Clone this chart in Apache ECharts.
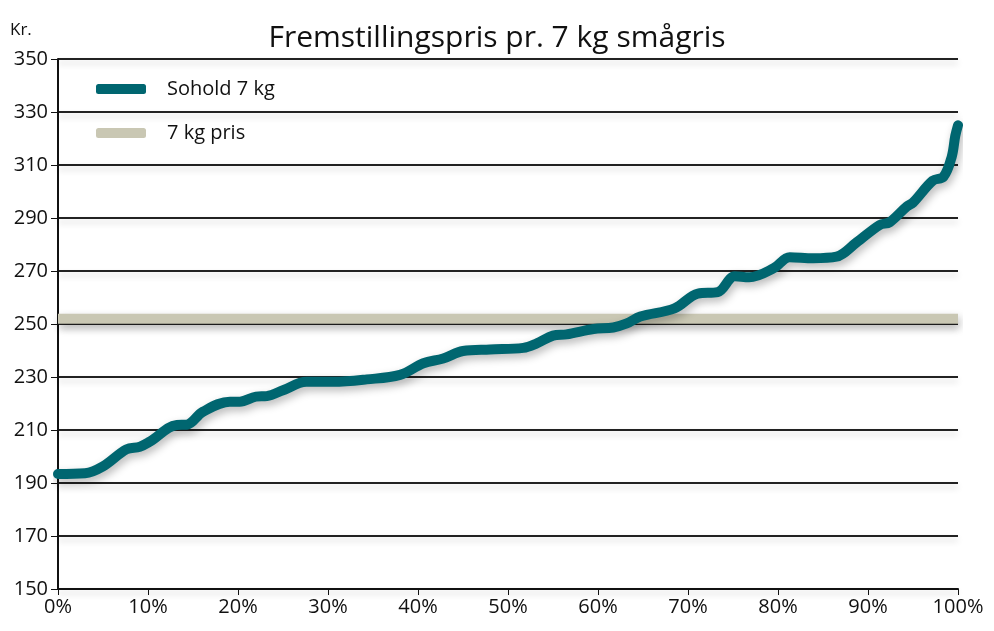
<!DOCTYPE html>
<html><head><meta charset="utf-8">
<script src="https://cdn.jsdelivr.net/npm/echarts@6/dist/echarts.min.js"></script>
<style>html,body{margin:0;padding:0;background:#fff}#c{width:994px;height:631px}</style>
</head><body><div id="c"></div>
<script>
const titleText = 'Fremstillingspris pr. 7 kg smågris';
const yUnit = 'Kr.';
const seriesNames = ['Sohold 7 kg', '7 kg pris'];
const xPct = [0, 3, 5, 7.6, 9.1, 10.2, 13.2, 14.3, 16.1, 19.1, 20.2, 22, 23.2, 25, 27.6, 30.6, 34.3, 38, 40.6, 42.8, 45, 48, 51.7, 53.2, 55, 56.5, 59.5, 61.7, 63.2, 64.7, 68.5, 71.1, 73.3, 75.2, 76.8, 79.5, 81.3, 83.9, 86.5, 88.7, 91.3, 92.4, 94.3, 95, 97.2, 98.4, 99.3, 99.7, 100];
const sohold = [193.4, 193.7, 196.3, 202.7, 203.7, 205.6, 211.9, 212, 216.9, 220.7, 220.7, 222.6, 222.8, 225, 228.2, 228.2, 229.1, 230.8, 235.2, 237, 239.8, 240.4, 241, 242.7, 245.6, 246.1, 248.1, 248.7, 250.2, 252.8, 255.9, 261.5, 262, 268, 267.6, 271, 275.2, 274.8, 275.4, 280.7, 287.4, 288.4, 294.3, 295.8, 304.1, 305.6, 313.1, 321, 325];
const priceX = [0, 100];
const priceY = [252, 252];
const yMin = 150, yMax = 350, yStep = 20;
const xMin = 0, xMax = 100, xStep = 10;

const font = '"Open Sans", "Noto Sans", sans-serif';
const shadow = {shadowColor: 'rgba(0,0,0,0.28)', shadowBlur: 8, shadowOffsetY: 4, shadowOffsetX: 2};
const chart = echarts.init(document.getElementById('c'), null, {renderer: 'canvas'});
chart.setOption({
  animation: false,
  backgroundColor: '#fff',
  title: {text: titleText, left: 'center', top: 18, textStyle: {fontFamily: font, fontSize: 30, fontWeight: 'normal', color: '#111'}},
  grid: {left: 58, right: 36, top: 59, bottom: 42},
  legend: {
    orient: 'vertical', left: 91, top: 74, itemWidth: 50, itemHeight: 10, itemGap: 24,
    icon: 'roundRect',
    textStyle: {fontFamily: font, fontSize: 20, color: '#111', padding: [0, 0, 0, 16]},
    data: seriesNames
  },
  xAxis: {
    type: 'value', min: xMin, max: xMax, interval: xStep,
    axisLine: {lineStyle: {color: '#111', width: 2}},
    axisTick: {show: true, length: 6, lineStyle: {color: '#111', width: 1}},
    axisLabel: {formatter: '{value}%', fontFamily: font, fontSize: 20, color: '#111', margin: 8},
    splitLine: {show: false}
  },
  yAxis: {
    type: 'value', min: yMin, max: yMax, interval: yStep,
    name: yUnit, nameLocation: 'end', nameGap: 20,
    nameTextStyle: {fontFamily: font, fontSize: 17, color: '#111', align: 'left', padding: [0, 0, 0, -48]},
    axisLine: {show: true, lineStyle: {color: '#111', width: 2}},
    axisTick: {show: true, length: 7, lineStyle: {color: '#111', width: 1}},
    axisLabel: {fontFamily: font, fontSize: 20, color: '#111', margin: 10},
    splitLine: {show: true, lineStyle: {color: '#222', width: 2, shadowColor: 'rgba(0,0,0,0.18)', shadowBlur: 6, shadowOffsetY: 4}}
  },
  series: [
    {
      name: seriesNames[1], type: 'line', symbol: 'none', z: 2,
      data: priceX.map((x, i) => [x, priceY[i]]),
      color: '#c9c7b3',
      lineStyle: Object.assign({color: '#c9c7b3', width: 10, cap: 'butt'}, shadow)
    },
    {
      name: seriesNames[0], type: 'line', symbol: 'none', smooth: 0.35, z: 3,
      data: xPct.map((x, i) => [x, sohold[i]]),
      color: '#006670',
      lineStyle: Object.assign({color: '#006670', width: 10, cap: 'round', join: 'round'}, shadow)
    }
  ]
});
</script></body></html>
